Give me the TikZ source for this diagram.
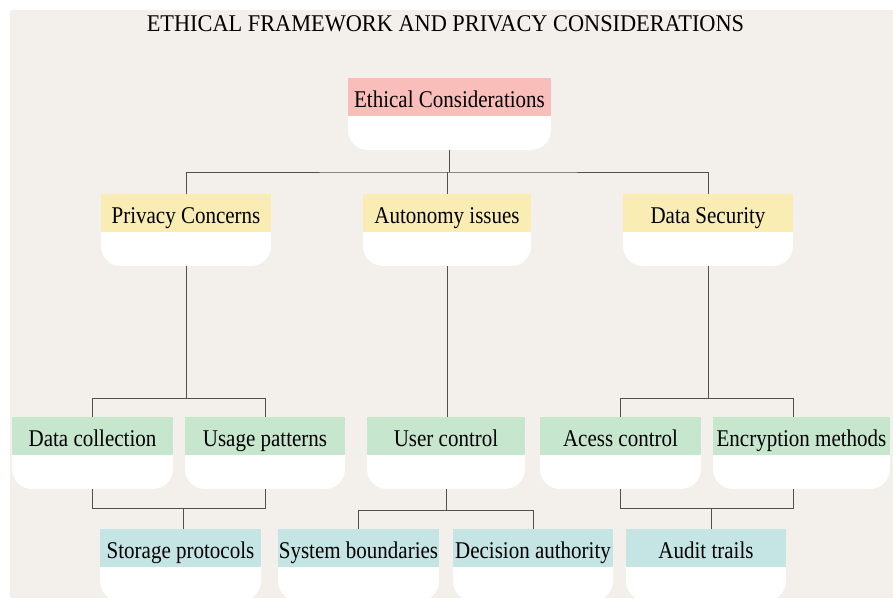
\documentclass[tikz,border=0pt]{standalone}
\usepackage{fontspec}
\setmainfont{Liberation Serif}
\newfontfamily\nodefont[FakeStretch=0.875]{Liberation Serif}
\newfontfamily\titlefont[FakeStretch=0.93]{Liberation Serif}
\definecolor{bg}{HTML}{F3EFEA}
\definecolor{cpink}{HTML}{F9BEB9}
\definecolor{cyel}{HTML}{F9EDB4}
\definecolor{cgreen}{HTML}{C6E6CE}
\definecolor{cteal}{HTML}{C4E5E3}
\definecolor{lineg}{HTML}{505050}
\tikzset{
  cardtop/.style={inner sep=0pt, outer sep=0pt, minimum height=38pt, text height=20pt, text depth=0pt,
    font=\nodefont\fontsize{24}{26}\selectfont, text=black},
  conn/.style={draw=lineg, line width=1pt},
}
\newcommand\card[6]{%
  \fill[white, rounded corners=20pt] (#2,#4) rectangle (#3,#4+72);
  \node[cardtop, fill=#5, minimum width={(#3-#2)*1pt}] (#1) at ({(#2+#3)/2},#4+19) {#6};
  \coordinate (#1-b) at ({(#2+#3)/2},#4+72);
}
\begin{document}
\begin{tikzpicture}[x=1pt,y=-1pt]
\useasboundingbox (0,0) rectangle (893,598);
\fill[white] (0,0) rectangle (893,598);
\fill[bg] (10,10) rectangle (893,598);
\node[font=\titlefont\fontsize{24}{26}\selectfont, inner sep=0pt, anchor=base] (title) at (445.5,31) {ETHICAL FRAMEWORK AND PRIVACY CONSIDERATIONS};

\card{ec}{348}{551}{78}{cpink}{Ethical Considerations}
\card{pc}{101}{271}{194}{cyel}{Privacy Concerns}
\card{ai}{363}{531}{194}{cyel}{Autonomy issues}
\card{ds}{623}{793}{194}{cyel}{Data Security}
\card{dc}{12}{173}{417}{cgreen}{Data collection}
\card{up}{185}{345}{417}{cgreen}{Usage patterns}
\card{uc}{367}{525}{417}{cgreen}{User control}
\card{ac}{540}{701}{417}{cgreen}{Acess control}
\card{em}{713}{890}{417}{cgreen}{Encryption methods}
\card{sp}{100}{261}{529}{cteal}{Storage protocols}
\card{sb}{278}{439}{529}{cteal}{System boundaries}
\card{da}{453}{613}{529}{cteal}{Decision authority}
\card{at}{626}{786}{529}{cteal}{Audit trails}

% level 0 -> 1
\draw[conn] (ec-b) -- ++(0,22) coordinate (j1);
\draw[conn] (pc.north) |- (j1) -| (ds.north);
\draw[conn] (ai.north) -- (ai.north |- j1);
% level 1 -> 2
\draw[conn] (pc-b) -- ++(0,132) coordinate (j2);
\draw[conn] (dc.north) |- (j2) -| (up.north);
\draw[conn] (ai-b) -- (ai-b |- uc.north);
\draw[conn] (ds-b) -- ++(0,132) coordinate (j3);
\draw[conn] (ac.north) |- (j3) -| ([xshift=-8pt]em.north);
% level 2 -> 3
\coordinate (j4) at (183,508);
\draw[conn] (dc-b) |- (j4) -| (up-b);
\draw[conn] (j4) -- (j4 |- sp.north);
\draw[conn] (uc-b) -- ++(0,21) coordinate (j5);
\draw[conn] (sb.north) |- (j5) -| (da.north);
\coordinate (j6) at (711,508);
\draw[conn] (ac-b) |- (j6) -| ([xshift=-8pt]em-b);
\draw[conn] (j6) -- (j6 |- at.north);
\end{tikzpicture}
\end{document}
